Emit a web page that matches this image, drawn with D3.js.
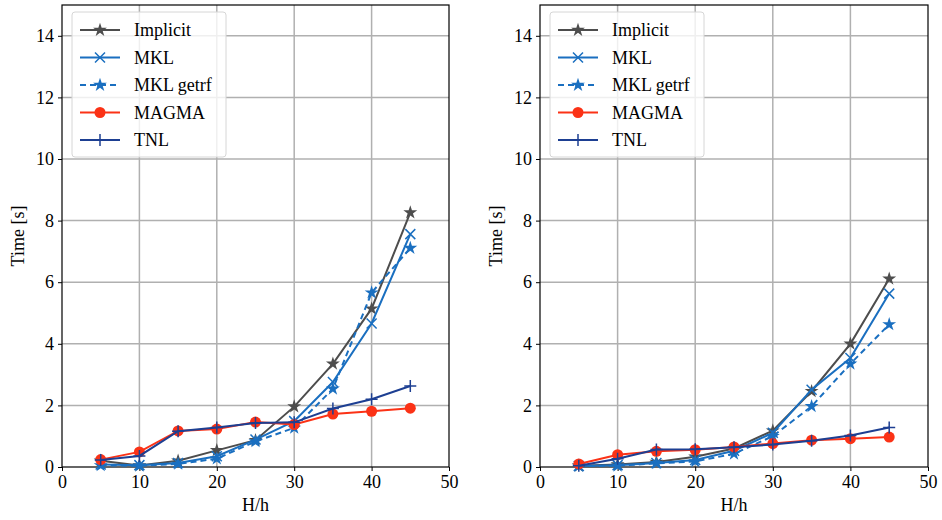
<!DOCTYPE html>
<html>
<head>
<meta charset="utf-8">
<script src="https://cdn.jsdelivr.net/npm/d3@7"></script>
<style>
  body { margin: 0; background: #fff; }
  svg text { font-family: "Liberation Serif", "Times New Roman", Times, "DejaVu Serif", "Noto Serif", serif; fill: #000; }
</style>
</head>
<body>
<div id="chart"></div>
<script>
// x values (H/h)
const hValues = [5, 10, 15, 20, 25, 30, 35, 40, 45];

// left panel
const implicitLeft = [0.20, 0.05, 0.20, 0.54, 0.87, 1.96, 3.35, 5.14, 8.26];
const mklLeft      = [0.08, 0.06, 0.13, 0.35, 0.89, 1.49, 2.76, 4.66, 7.56];
const getrfLeft    = [0.05, 0.04, 0.10, 0.27, 0.83, 1.27, 2.54, 5.66, 7.11];
const magmaLeft    = [0.24, 0.49, 1.17, 1.23, 1.46, 1.38, 1.72, 1.81, 1.91];
const tnlLeft      = [0.23, 0.36, 1.16, 1.28, 1.43, 1.45, 1.90, 2.20, 2.63];

// right panel
const implicitRight = [0.04, 0.08, 0.16, 0.33, 0.60, 1.18, 2.46, 4.00, 6.11];
const mklRight      = [0.03, 0.06, 0.13, 0.23, 0.53, 1.11, 2.51, 3.54, 5.63];
const getrfRight    = [0.03, 0.04, 0.12, 0.18, 0.43, 1.00, 1.97, 3.35, 4.63];
const magmaRight    = [0.10, 0.40, 0.51, 0.56, 0.65, 0.76, 0.87, 0.92, 0.97];
const tnlRight      = [0.04, 0.27, 0.57, 0.58, 0.64, 0.73, 0.85, 1.02, 1.28];

const xTicks = [0, 10, 20, 30, 40, 50];
const yTicks = [0, 2, 4, 6, 8, 10, 12, 14];

const seriesStyle = [
  { name: 'Implicit',  color: '#4d4d4d', marker: 'star',   dash: null },
  { name: 'MKL',       color: '#1a6fc0', marker: 'x',      dash: null },
  { name: 'MKL getrf', color: '#1a6fc0', marker: 'star',   dash: '6,4' },
  { name: 'MAGMA',     color: '#fb3216', marker: 'circle', dash: null },
  { name: 'TNL',       color: '#1d3f92', marker: 'plus',   dash: null }
];

const panels = [
  { left: 62, right: 449, series: [implicitLeft, mklLeft, getrfLeft, magmaLeft, tnlLeft] },
  { left: 540, right: 928, series: [implicitRight, mklRight, getrfRight, magmaRight, tnlRight] }
];

const width = 942, height = 520;
const plotTop = 5, plotBottom = 467;
const serif = '"Liberation Serif", "Times New Roman", Times, "DejaVu Serif", "Noto Serif", serif';

const svg = d3.select('#chart').append('svg')
  .attr('width', width)
  .attr('height', height);

function drawMarker(g, type, color, cx, cy) {
  if (type === 'circle') {
    g.append('circle').attr('cx', cx).attr('cy', cy).attr('r', 5.5).attr('fill', color);
  } else if (type === 'star') {
    g.append('path')
      .attr('d', d3.symbol().type(d3.symbolStar).size(60)())
      .attr('transform', `translate(${cx},${cy})`)
      .attr('fill', color);
  } else if (type === 'x') {
    const s = 5;
    g.append('path')
      .attr('d', `M${cx - s},${cy - s}L${cx + s},${cy + s}M${cx - s},${cy + s}L${cx + s},${cy - s}`)
      .attr('stroke', color).attr('stroke-width', 1.5).attr('fill', 'none');
  } else if (type === 'plus') {
    const s = 6;
    g.append('path')
      .attr('d', `M${cx - s},${cy}L${cx + s},${cy}M${cx},${cy - s}L${cx},${cy + s}`)
      .attr('stroke', color).attr('stroke-width', 1.5).attr('fill', 'none');
  }
}

panels.forEach(p => {
  const x = d3.scaleLinear().domain([0, 50]).range([p.left, p.right]);
  const y = d3.scaleLinear().domain([0, 15]).range([plotBottom, plotTop]);

  const g = svg.append('g');

  // grid
  g.append('g').selectAll('line').data(xTicks.slice(1, -1)).join('line')
    .attr('x1', d => x(d)).attr('x2', d => x(d))
    .attr('y1', plotTop).attr('y2', plotBottom)
    .attr('stroke', '#b0b0b0').attr('stroke-width', 1.5);
  g.append('g').selectAll('line').data(yTicks.slice(1)).join('line')
    .attr('x1', p.left).attr('x2', p.right)
    .attr('y1', d => y(d)).attr('y2', d => y(d))
    .attr('stroke', '#b0b0b0').attr('stroke-width', 1.5);

  // axes
  const xAxis = g.append('g')
    .attr('transform', `translate(0,${plotBottom})`)
    .call(d3.axisBottom(x).tickValues(xTicks).tickSize(4).tickPadding(4));
  const yAxis = g.append('g')
    .attr('transform', `translate(${p.left},0)`)
    .call(d3.axisLeft(y).tickValues(yTicks).tickSize(4).tickPadding(4));
  [xAxis, yAxis].forEach(a => {
    a.attr('font-family', serif).attr('font-size', 18);
    a.select('.domain').remove();
    a.selectAll('line').attr('stroke', '#000').attr('stroke-width', 1);
  });

  // frame
  g.append('rect')
    .attr('x', p.left).attr('y', plotTop)
    .attr('width', p.right - p.left).attr('height', plotBottom - plotTop)
    .attr('fill', 'none').attr('stroke', '#000').attr('stroke-width', 1.2);

  // axis labels
  g.append('text')
    .attr('x', (p.left + p.right) / 2).attr('y', 511)
    .attr('text-anchor', 'middle').style('font-size', '18px')
    .text('H/h');
  g.append('text')
    .attr('transform', `translate(${p.left - 38},${(plotTop + plotBottom) / 2}) rotate(-90)`)
    .attr('text-anchor', 'middle').style('font-size', '18px')
    .text('Time [s]');

  // lines
  const marks = g.append('g');
  p.series.forEach((vals, i) => {
    const st = seriesStyle[i];
    const data = hValues.map((h, j) => ({ h: h, v: vals[j] }));
    marks.append('path')
      .datum(data)
      .attr('fill', 'none')
      .attr('stroke', st.color)
      .attr('stroke-width', 2)
      .attr('stroke-dasharray', st.dash)
      .attr('d', d3.line().x(d => x(d.h)).y(d => y(d.v)));
    data.forEach(d => drawMarker(marks, st.marker, st.color, x(d.h), y(d.v)));
  });

  // legend
  const lx = p.left + 10, ly = 12;
  const leg = g.append('g');
  leg.append('rect')
    .attr('x', lx).attr('y', ly).attr('width', 154).attr('height', 145)
    .attr('rx', 3).attr('fill', 'rgba(255,255,255,0.8)')
    .attr('stroke', '#d6d6d6').attr('stroke-width', 1);
  seriesStyle.forEach((st, i) => {
    const yy = ly + 18 + i * 27.5;
    leg.append('line')
      .attr('x1', lx + 8).attr('x2', lx + 48)
      .attr('y1', yy).attr('y2', yy)
      .attr('stroke', st.color).attr('stroke-width', 2)
      .attr('stroke-dasharray', st.dash);
    drawMarker(leg, st.marker, st.color, lx + 28, yy);
    leg.append('text')
      .attr('x', lx + 62).attr('y', yy + 6)
      .style('font-size', '18px')
      .text(st.name);
  });
});
</script>
</body>
</html>
